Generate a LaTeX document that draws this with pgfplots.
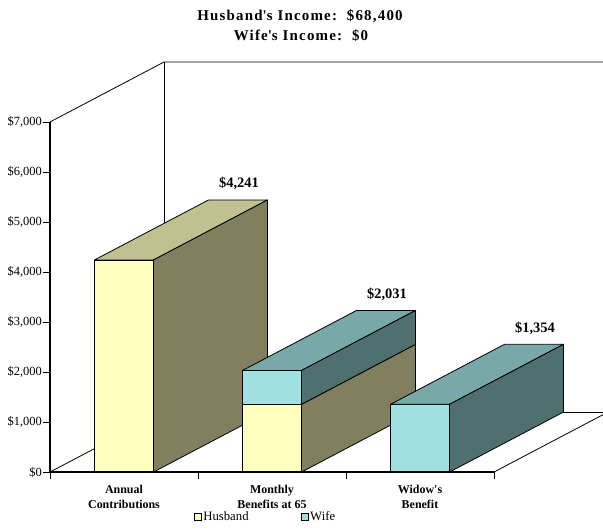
\documentclass[border=0pt]{standalone}
\usepackage{fontspec}
\setmainfont{Liberation Serif}
\newfontfamily\spacedfont{Liberation Serif}[LetterSpace=8]
\usepackage{pgfplots}
\pgfplotsset{compat=1.18}
\definecolor{huF}{HTML}{FFFFC0}
\definecolor{huT}{HTML}{C0C090}
\definecolor{huS}{HTML}{808060}
\definecolor{wiF}{HTML}{A0E0E0}
\definecolor{wiT}{HTML}{78A8A8}
\definecolor{wiS}{HTML}{507070}
\begin{document}
\begin{tikzpicture}
\begin{axis}[
  x=1bp, y=0.05bp,
  xmin=50, xmax=603, ymin=0, ymax=8220,
  clip=false,
  axis line style={draw=none},
  tick pos=left, tick align=outside,
  major tick length=7bp,
  tick style={black, line width=0.8bp},
  /pgf/number format/assume math mode=true,
  ytick={0,1000,...,7000},
  yticklabel style={font=\fontsize{12.5}{14}\selectfont, inner sep=1bp,
    /pgf/number format/.cd, fixed, precision=0, 1000 sep={,}},
  yticklabel={\$\pgfmathprintnumber{\tick}},
  xtick={50,198,346,494},
  xticklabels={},
  extra x ticks={124,272,420},
  extra x tick labels={{Annual\\Contributions},{Monthly\\Benefits at 65},{Widow\textquotesingle s\\Benefit}},
  extra x tick style={major tick length=0pt,
    xticklabel style={align=center, yshift=-10bp, font=\bfseries\fontsize{12}{15}\selectfont}},
  legend columns=2,
  legend style={at={(0.2604,-0.1095)}, anchor=west, draw=none, fill=none,
    inner sep=0pt, font=\fontsize{12.8}{14}\selectfont,
    nodes={inner sep=1.5bp},
    /tikz/every even column/.append style={column sep=51bp}},
  legend image code/.code={\draw[#1, draw=black, line width=0.6bp] (0bp,-3.5bp) rectangle (7bp,3.5bp);},
  face/.style={draw=black, line width=0.8bp, line join=round, forget plot},
  wall/.style={black, line width=0.8bp, forget plot},
]
\addlegendimage{fill=huF}
\addlegendentry{Husband}
\addlegendimage{fill=wiF}
\addlegendentry{Wife}

% walls and floor
\addplot[wall] coordinates {(50,7000) (164,8200) (603,8200)};
\addplot[wall] coordinates {(164,8200) (164,1200) (603,1200)};
\addplot[wall] coordinates {(50,0) (164,1200)};
\addplot[wall] coordinates {(494,0) (603,1147)};
\addplot[wall, line width=1.2bp] coordinates {(50,0) (50,7000)};

% Annual Contributions: husband 4241
\addplot[face, fill=huF] coordinates {(94.5,0) (153.5,0) (153.5,4241) (94.5,4241)} --cycle;
\addplot[face, fill=huT] coordinates {(94.5,4241) (153.5,4241) (267.5,5441) (208.5,5441)} --cycle;
\addplot[face, fill=huS] coordinates {(153.5,0) (267.5,1200) (267.5,5441) (153.5,4241)} --cycle;

% Monthly Benefits at 65: husband 1354 + wife 677 = 2031
\addplot[face, fill=huF] coordinates {(242.5,0) (301.5,0) (301.5,1354) (242.5,1354)} --cycle;
\addplot[face, fill=huS] coordinates {(301.5,0) (415.5,1200) (415.5,2554) (301.5,1354)} --cycle;
\addplot[face, fill=wiF] coordinates {(242.5,1354) (301.5,1354) (301.5,2031) (242.5,2031)} --cycle;
\addplot[face, fill=wiT] coordinates {(242.5,2031) (301.5,2031) (415.5,3231) (356.5,3231)} --cycle;
\addplot[face, fill=wiS] coordinates {(301.5,1354) (415.5,2554) (415.5,3231) (301.5,2031)} --cycle;

% Widow's Benefit: wife 1354
\addplot[face, fill=wiF] coordinates {(390.5,0) (449.5,0) (449.5,1354) (390.5,1354)} --cycle;
\addplot[face, fill=wiT] coordinates {(390.5,1354) (449.5,1354) (563.5,2554) (504.5,2554)} --cycle;
\addplot[face, fill=wiS] coordinates {(449.5,0) (563.5,1200) (563.5,2554) (449.5,1354)} --cycle;

% front floor edge
\addplot[wall, line width=1.6bp] coordinates {(50,0) (494,0)};

% value labels
\addplot[draw=none, forget plot, nodes near coords={\$\pgfmathprintnumber[fixed,precision=0,1000 sep={,}]{\pgfplotspointmeta}},
  every node near coord/.append style={anchor=base, xshift=115bp, yshift=72bp, inner sep=0pt,
    font=\bfseries\fontsize{14.5}{16}\selectfont}]
  coordinates {(124,4241) (272,2031) (420,1354)};

\node[anchor=base, font=\spacedfont\bfseries\fontsize{15}{18}\selectfont] at (axis cs:300,9020) {Husband\textquotesingle s Income:\ \ \$68,400};
\node[anchor=base, font=\spacedfont\bfseries\fontsize{15}{18}\selectfont] at (axis cs:301,8620) {Wife\textquotesingle s Income:\ \ \$0};

\coordinate (bbll) at (axis cs:0,-1140);
\coordinate (bbur) at (axis cs:603,9440);
\end{axis}
\pgfresetboundingbox
\useasboundingbox (bbll) rectangle (bbur);
\end{tikzpicture}
\end{document}
